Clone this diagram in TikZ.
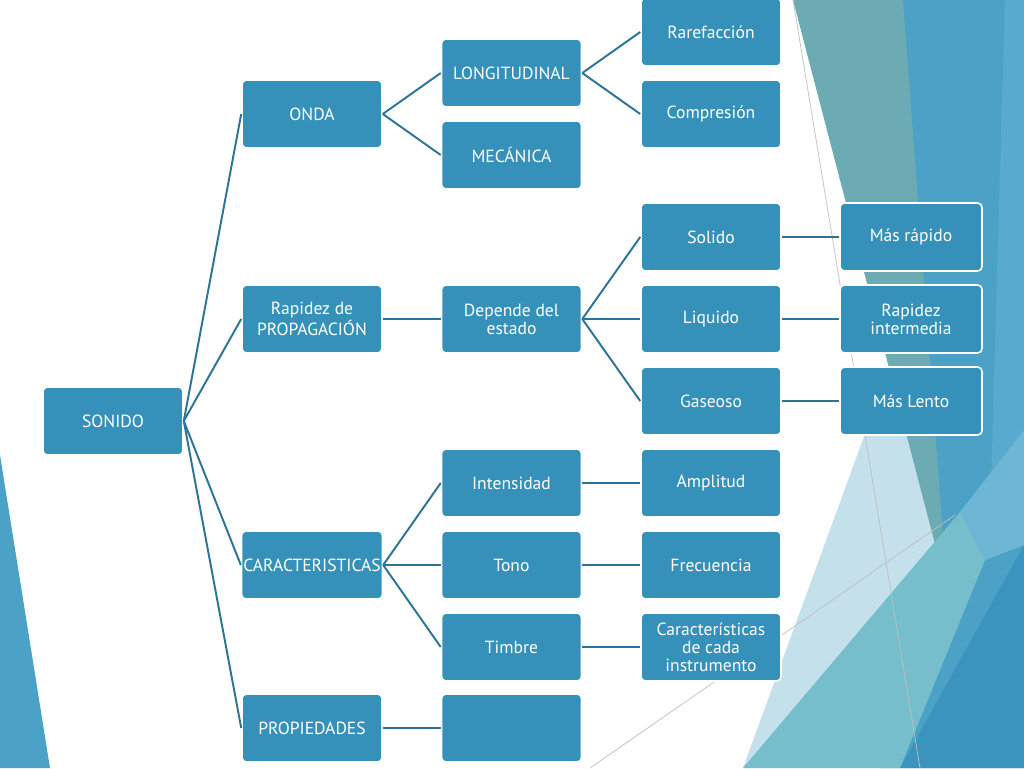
\documentclass[tikz,border=0pt]{standalone}
\usepackage{fontspec}
\setmainfont{PT Sans}
\definecolor{boxblue}{HTML}{3591B9}
\definecolor{linkblue}{HTML}{2C7397}
\definecolor{deco}{HTML}{4BA2C6}
\definecolor{decodark}{HTML}{3B94BE}
\definecolor{decogrey}{HTML}{6CAAB4}
\definecolor{decopale}{HTML}{C4E0EA}
\definecolor{decoteal}{HTML}{76BECB}
\definecolor{decolight}{HTML}{58AACE}
\definecolor{decosky}{HTML}{6DB7D5}

\tikzset{
  concept/.style={draw=white, line width=0.9pt, fill=boxblue, rounded corners=2.5pt,
    minimum width=2.8cm, minimum height=1.36cm, inner sep=1pt, align=center,
    text=white, font=\fontsize{10}{10.3}\selectfont},
  link/.style={draw=linkblue, line width=1.1pt},
  hairline/.style={draw=black!25, line width=0.4pt}
}

\begin{document}
\begin{tikzpicture}[x=0.02cm, y=-0.02cm]
  \useasboundingbox[fill=white] (0,0) rectangle (1024,768);
  % slide background
  \fill[deco] (0,455) -- (50,768) -- (0,768) -- cycle;
  \fill[deco] (895,0) -- (1024,0) -- (1024,768) -- (880,768) -- (947,590) -- cycle;
  \fill[decolight] (1005,0) -- (1024,0) -- (1024,430) -- (990,520) -- cycle;
  \fill[decopale] (870,420) -- (903,420) -- (947,590) -- (743,768) -- cycle;
  \fill[decogrey] (793,0) -- (903,0) -- (947,590) -- cycle;
  \fill[decosky] (960,512) -- (1024,430) -- (1024,545) -- (985,560) -- cycle;
  \fill[decoteal] (743,768) -- (960,512) -- (985,560) -- (900,768) -- cycle;
  \fill[decodark] (900,768) -- (1024,545) -- (1024,768) -- cycle;
  \draw[hairline] (793,0) -- (920,768);
  \draw[hairline] (590,768) -- (955,515);
  %
  \def\xa{113}
  \def\xb{312}
  \def\xc{511.5}
  \def\xd{711}
  \def\xe{911}
  \node[concept] (sonido) at (\xa,421) {SONIDO};
  %
  \node[concept] (onda) at (\xb,114) {ONDA};
  \node[concept] (rapidez) at (\xb,319) {Rapidez de\\PROPAGACIÓN};
  \node[concept] (caract) at (\xb,565) {CARACTERISTICAS};
  \node[concept] (propied) at (\xb,728) {PROPIEDADES};
  %
  \node[concept] (longit) at (\xc,73) {LONGITUDINAL};
  \node[concept] (mecan) at (\xc,155) {MECÁNICA};
  \node[concept] (depende) at (\xc,319) {Depende del\\estado};
  \node[concept] (intens) at (\xc,483) {Intensidad};
  \node[concept] (tono) at (\xc,565) {Tono};
  \node[concept] (timbre) at (\xc,647) {Timbre};
  \node[concept] (vacio) at (\xc,728) {};
  %
  \node[concept] (raref) at (\xd,32) {Rarefacción};
  \node[concept] (compr) at (\xd,114) {Compresión};
  \node[concept] (solido) at (\xd,237) {Solido};
  \node[concept] (liquido) at (\xd,319) {Liquido};
  \node[concept] (gaseoso) at (\xd,401) {Gaseoso};
  \node[concept] (amplit) at (\xd,483) {Amplitud};
  \node[concept] (frecu) at (\xd,565) {Frecuencia};
  \node[concept] (instrum) at (\xd,647) {Características\\de cada\\instrumento};
  %
  \node[concept, minimum width=2.84cm] (rapido) at (\xe,237) {Más rápido};
  \node[concept, minimum width=2.84cm] (intermed) at (\xe,319) {Rapidez\\intermedia};
  \node[concept, minimum width=2.84cm] (lento) at (\xe,401) {Más Lento};
  %
  \foreach \a/\b in {sonido/onda, sonido/rapidez, sonido/caract, sonido/propied,
      onda/longit, onda/mecan, longit/raref, longit/compr,
      rapidez/depende, depende/solido, depende/liquido, depende/gaseoso,
      solido/rapido, liquido/intermed, gaseoso/lento,
      caract/intens, caract/tono, caract/timbre,
      intens/amplit, tono/frecu, timbre/instrum, propied/vacio}
    \draw[link] (\a.east) -- (\b.west);
\end{tikzpicture}
\end{document}
